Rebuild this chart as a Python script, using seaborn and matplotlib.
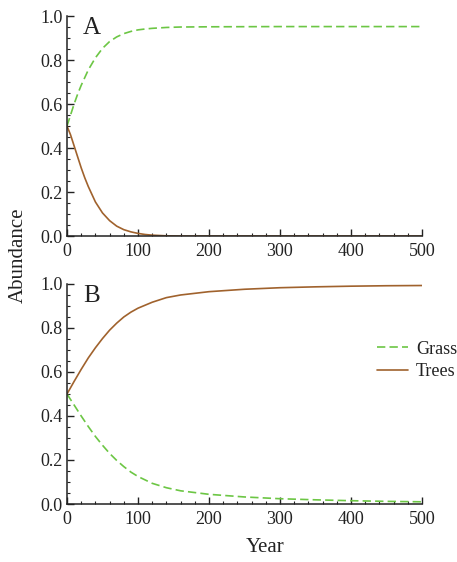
import numpy as np
import pandas as pd
import matplotlib.pyplot as plt
import seaborn as sns
from matplotlib.ticker import MultipleLocator

# values
years_a = [0, 5, 10, 15, 20, 25, 30, 40, 50, 60, 70, 80, 90, 100, 110, 120, 140, 160, 200, 300, 400, 500]
grass_a = [0.50, 0.55, 0.60, 0.645, 0.685, 0.72, 0.755, 0.81, 0.853, 0.884, 0.905, 0.92, 0.93, 0.937, 0.941, 0.944, 0.948, 0.95, 0.951, 0.952, 0.952, 0.952]
trees_a = [0.50, 0.46, 0.41, 0.36, 0.31, 0.265, 0.225, 0.155, 0.105, 0.07, 0.045, 0.029, 0.019, 0.012, 0.007, 0.004, 0.001, 0.0, 0.0, 0.0, 0.0, 0.0]

years_b = [0, 10, 20, 30, 40, 50, 60, 70, 80, 90, 100, 120, 140, 160, 200, 250, 300, 350, 400, 450, 500]
grass_b = [0.50, 0.45, 0.40, 0.352, 0.307, 0.267, 0.23, 0.198, 0.17, 0.145, 0.125, 0.094, 0.074, 0.06, 0.044, 0.032, 0.024, 0.019, 0.015, 0.012, 0.010]
trees_b = [0.50, 0.557, 0.612, 0.664, 0.71, 0.752, 0.79, 0.822, 0.85, 0.872, 0.89, 0.917, 0.938, 0.95, 0.965, 0.976, 0.983, 0.987, 0.99, 0.992, 0.993]

labels = ["Grass", "Trees"]
colors = {"Grass": "#6cc644", "Trees": "#a0622d"}
dashes = {"Grass": (5, 2.5), "Trees": ""}

sns.set_style("white")
plt.rcParams['font.family'] = ['Liberation Serif', 'DejaVu Serif']
plt.rcParams['text.color'] = '#222222'
plt.rcParams['xtick.color'] = '#222222'
plt.rcParams['ytick.color'] = '#222222'

def make_df(years, grass, trees):
    return pd.DataFrame({
        "Year": years + years,
        "Abundance": grass + trees,
        "Type": ["Grass"] * len(years) + ["Trees"] * len(years),
    })

fig = plt.figure(figsize=(4.57, 5.62), dpi=100)
ax_a = fig.add_axes([0.1466, 0.580, 0.7768, 0.3915])
ax_b = fig.add_axes([0.1466, 0.1032, 0.7768, 0.3915])

for ax, df, letter in [(ax_a, make_df(years_a, grass_a, trees_a), "A"),
                       (ax_b, make_df(years_b, grass_b, trees_b), "B")]:
    sns.lineplot(data=df, x="Year", y="Abundance", hue="Type", style="Type",
                 palette=colors, dashes=dashes, hue_order=labels, style_order=labels,
                 linewidth=1.2, ax=ax, legend=(ax is ax_b))
    ax.set_xlim(0, 500)
    ax.set_ylim(0, 1)
    ax.set_xlabel("")
    ax.set_ylabel("")
    ax.xaxis.set_major_locator(MultipleLocator(100))
    ax.xaxis.set_minor_locator(MultipleLocator(20))
    ax.yaxis.set_major_locator(MultipleLocator(0.2))
    ax.yaxis.set_minor_locator(MultipleLocator(0.05))
    ax.set_yticks(ax.get_yticks())
    ax.set_yticklabels([f"{v:.1f}" for v in ax.get_yticks()])
    ax.set_ylim(0, 1)
    ax.tick_params(which="both", bottom=True, left=True, direction="in", color="#222222")
    ax.tick_params(which="major", length=5, width=1, labelsize=13, pad=3)
    ax.tick_params(which="minor", length=2.5, width=0.8)
    ax.tick_params(axis="x", which="major", pad=5)
    sns.despine(ax=ax)
    for s in ["left", "bottom"]:
        ax.spines[s].set_color("#222222")
        ax.spines[s].set_linewidth(1.1)
    ax.text(0.045, 0.995, letter, transform=ax.transAxes, fontsize=18, va="top", ha="left")

handles, names = ax_b.get_legend_handles_labels()
ax_b.get_legend().remove()
fig.legend(handles, names, loc="center left", bbox_to_anchor=(0.825, 0.3585),
           frameon=False, fontsize=13, handlelength=1.7, handletextpad=0.45,
           labelspacing=0.3, borderpad=0, borderaxespad=0)

fig.text(0.04, 0.546, "Abundance", rotation=90, ha="center", va="center", fontsize=15)
fig.text(0.58, 0.025, "Year", ha="center", va="center", fontsize=15)

fig.savefig("out.png", dpi=100)
